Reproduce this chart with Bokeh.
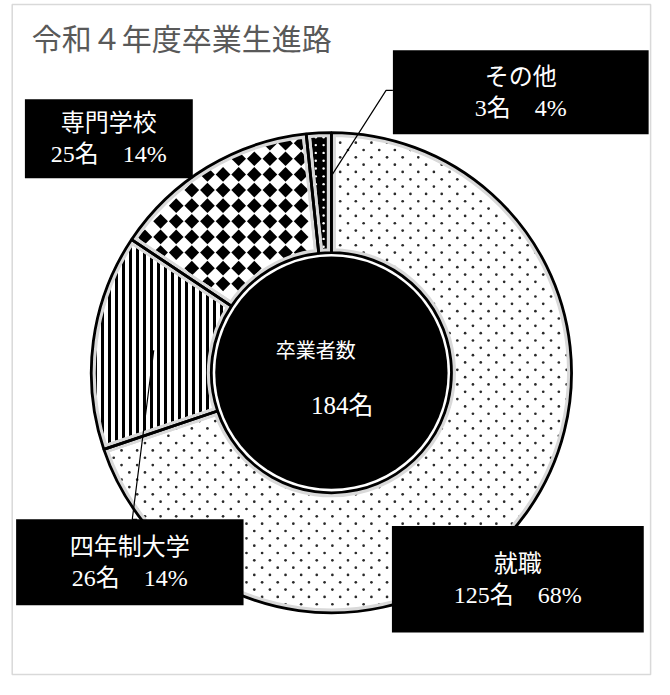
import numpy as np
from bokeh.plotting import figure
from bokeh.models import Range1d, ColumnDataSource
from bokeh.core.properties import value
from bokeh.embed import file_html
from bokeh.resources import INLINE

# ---- data ----
categories = ["就職", "四年制大学", "専門学校", "その他"]
counts = [125, 26, 25, 3]
pct_labels = ["68%", "14%", "14%", "4%"]
total_count = 184
title_text = "令和４年度卒業生進路"
center_title = "卒業者数"

# ---- styles ----
fills = ["white", "white", "white", "black"]
hatches = ["blank", "vertical_line", "blank", "blank"]
hatch_scales = [7, 7, 7, 7]
hatch_weights = [3, 3, 3, 3]

W, H = 654, 679
IMG_W, IMG_H = 670, 695


def Y(s):
    return IMG_H - s


p = figure(width=W, height=H, output_backend="svg", toolbar_location=None,
           x_range=Range1d(0, IMG_W), y_range=Range1d(0, IMG_H),
           min_border=0, tools="", x_axis_location=None, y_axis_location=None)
p.grid.visible = False
p.outline_line_color = None
p.background_fill_color = "white"

serif = value("Liberation Serif, Noto Sans CJK JP")
sans = value("Noto Sans CJK JP")

# chart frame
p.quad(left=[12], right=[666], top=[Y(4)], bottom=[Y(690)],
       fill_color=None, line_color="#d9d9d9", line_width=1.5)

# title
p.text(x=[32], y=[Y(37)], text=[title_text], text_font=sans, text_font_size="30px",
       text_color="#595959", text_align="left", text_baseline="middle")

# donut geometry
cx, cy = 339, Y(381)
ro, ri = 246, 123

cum = np.cumsum([0] + counts) / float(sum(counts)) * 2 * np.pi
starts = np.pi / 2 - cum[1:]
ends = np.pi / 2 - cum[:-1]

src = ColumnDataSource(dict(start=starts, end=ends, fill=fills, hatch=hatches,
                            hscale=hatch_scales, hweight=hatch_weights))

p.annular_wedge(x=cx, y=cy, inner_radius=ri, outer_radius=ro, start_angle="start",
                end_angle="end", fill_color="fill", hatch_pattern="hatch",
                hatch_color="black", hatch_scale="hscale", hatch_weight="hweight",
                line_color=None, source=src)


def in_sector(px, py, i, margin_r=1.5, margin_a=1.5):
    dx = px - cx
    dy = py - cy
    r = np.hypot(dx, dy)
    th = np.mod(np.arctan2(dx, dy), 2 * np.pi)
    a0, a1 = cum[i], cum[i + 1]
    ok = (r > ri + margin_r) & (r < ro - margin_r) & (th > a0) & (th < a1)
    d0 = r * np.sin(np.clip(th - a0, 0, np.pi / 2))
    d1 = r * np.sin(np.clip(a1 - th, 0, np.pi / 2))
    return ok & (d0 > margin_a) & (d1 > margin_a)


# texture: staggered small dots (就職)
gx, gy = [], []
for k, s in enumerate(np.arange(3.0, IMG_H, 7.5)):
    xs = np.arange(4.0 + 8.0 * (k % 2), IMG_W, 16.0)
    gx.append(xs)
    gy.append(np.full_like(xs, Y(s)))
gx = np.concatenate(gx)
gy = np.concatenate(gy)
m = in_sector(gx, gy, 0)
p.scatter(x=gx[m], y=gy[m], marker="circle", size=2.7, fill_color="#2a2a2a", line_color=None)

# texture: diamonds (専門学校)
dx_, dy_ = np.meshgrid(np.arange(4.0, IMG_W, 16.0), np.arange(Y(2.0), 0, -16.0))
dx_ = dx_.ravel()
dy_ = dy_.ravel()
m = in_sector(dx_, dy_, 2, margin_a=2.5)
p.scatter(x=dx_[m], y=dy_[m], marker="square", angle=np.pi / 4, size=10.4,
          fill_color="black", line_color=None)

# texture: white dots on black (その他)
wx, wy = np.meshgrid(np.arange(3.0, IMG_W, 8.0), np.arange(Y(4.0), 0, -8.0))
wx = wx.ravel()
wy = wy.ravel()
m = in_sector(wx, wy, 3, margin_a=1.0)
p.scatter(x=wx[m], y=wy[m], marker="circle", size=2.4, fill_color="white", line_color=None)

# soft gray inner band along the edges
p.annular_wedge(x=cx, y=cy, inner_radius=ri, outer_radius=ro, start_angle="start",
                end_angle="end", fill_color=None, line_color="#d9d9d9", line_width=9,
                source=src)
p.annulus(x=cx, y=cy, inner_radius=ro, outer_radius=ro + 8, fill_color="white",
          line_color=None)
p.circle(x=cx, y=cy, radius=ri, fill_color="white", line_color=None)
p.circle(x=cx, y=cy, radius=ri - 4, fill_color="black", line_color=None)
p.annular_wedge(x=cx, y=cy, inner_radius=ri, outer_radius=ro, start_angle="start",
                end_angle="end", fill_color=None, line_color="black", line_width=2.8,
                source=src)

# center labels
p.text(x=[323], y=[Y(357)], text=[center_title], text_font=sans, text_font_size="20px",
       text_color="white", text_align="center", text_baseline="middle")
p.text(x=[350], y=[Y(415)], text=[f"{total_count}名"], text_font=serif,
       text_font_size="25px", text_color="white", text_align="center",
       text_baseline="middle")

# leader lines
p.line(x=[402, 395, 340], y=[Y(92), Y(92), Y(178)], line_color="black", line_width=1.2)
p.line(x=[157, 135, 140], y=[Y(358), Y(531), Y(531)], line_color="black", line_width=1.2)

# label boxes (left, right, top, bottom in image pixels)
box_layout = {
    "就職": (401, 659, 538, 647),
    "四年制大学": (16, 249, 531, 619),
    "専門学校": (25, 197, 101, 182),
    "その他": (402, 664, 51, 137),
}
for cat, n, pct in zip(categories, counts, pct_labels):
    l, r, t, b = box_layout[cat]
    p.quad(left=[l], right=[r], top=[Y(t)], bottom=[Y(b)], fill_color="black",
           line_color=None)
    xc = (l + r) / 2
    yc = (t + b) / 2
    p.text(x=[xc, xc], y=[Y(yc - 16), Y(yc + 16)], text=[cat, f"{n}名　{pct}"],
           text_font=serif, text_font_size="24px", text_color="white",
           text_align="center", text_baseline="middle")

open("out.html", "w").write(file_html(p, INLINE))
